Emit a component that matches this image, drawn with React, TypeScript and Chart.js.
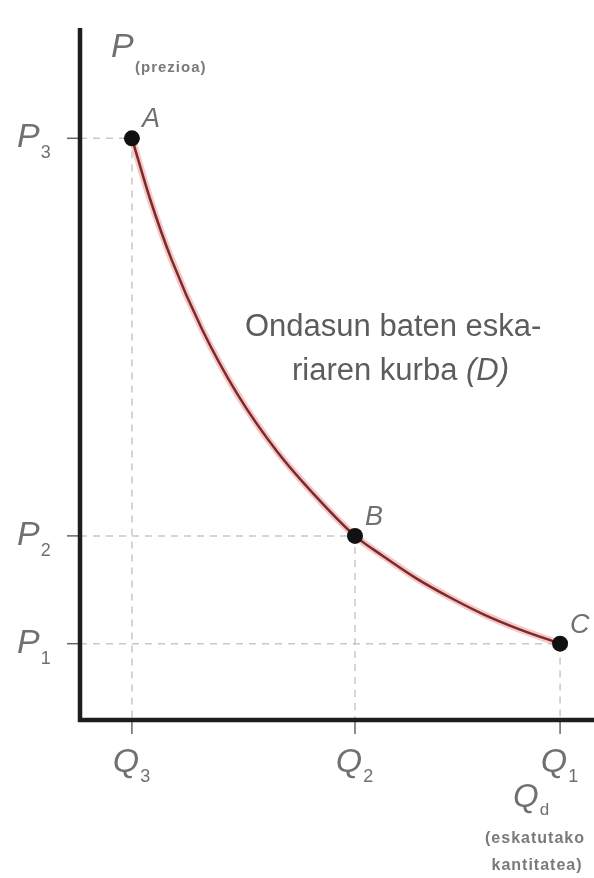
import React, { useEffect, useRef } from "react";
import { Chart, registerables } from "chart.js";

Chart.register(...registerables);

// Points A, B, C on the demand curve
const pointNames = ["A", "B", "C"];
const pointQ = [10.1, 53.5, 93.4];
const pointP = [83.1, 26.3, 10.9];
const qTickSubs = ["3", "2", "1"];
const pTickSubs = ["3", "2", "1"];

// Demand curve samples
const curveQ = [10.1, 13.6, 17.8, 23.7, 30.5, 38.3, 46.7, 53.5, 59.0, 65.5, 72.0, 78.5, 85.0, 93.4];
const curveP = [83.1, 74.5, 65.8, 55.9, 46.7, 38.4, 31.3, 26.3, 23.4, 20.2, 17.5, 15.1, 13.1, 10.9];

const curveLabel1 = "Ondasun baten eska-";
const curveLabel2a = "riaren kurba ";
const curveLabel2b = "(D)";
const yAxisTitle = "P";
const yAxisSub = "(prezioa)";
const xAxisTitle = "Q";
const xAxisSub = "d";
const xAxisNote1 = "(eskatutako";
const xAxisNote2 = "kantitatea)";

const FONT = "'Liberation Sans', Arial, sans-serif";
const LABEL = "#707070";

function drawSub(
  ctx: CanvasRenderingContext2D,
  main: string,
  sub: string,
  x: number,
  y: number,
  size: number,
  subSize: number,
  subDrop: number,
  align: "left" | "right" | "center"
) {
  ctx.font = `italic ${size}px ${FONT}`;
  const mw = ctx.measureText(main).width;
  ctx.font = `${subSize}px ${FONT}`;
  const sw = ctx.measureText(sub).width;
  const total = mw + sw;
  let left = x;
  if (align === "right") left = x - total;
  if (align === "center") left = x - total / 2;
  ctx.textAlign = "left";
  ctx.textBaseline = "alphabetic";
  ctx.font = `italic ${size}px ${FONT}`;
  ctx.fillText(main, left, y);
  ctx.font = `${subSize}px ${FONT}`;
  ctx.fillText(sub, left + mw + 1, y + subDrop);
}

const decorPlugin = {
  id: "decor",
  afterDatasetsDraw(chart: any) {
    const ctx: any = chart.ctx;
    const xs = chart.scales.x;
    const ys = chart.scales.y;
    const x0 = xs.getPixelForValue(0);
    const y0 = ys.getPixelForValue(0);
    ctx.save();

    // tick marks
    ctx.strokeStyle = "#666";
    ctx.lineWidth = 1.5;
    pointQ.forEach((q) => {
      const px = xs.getPixelForValue(q);
      ctx.beginPath();
      ctx.moveTo(px, y0);
      ctx.lineTo(px, y0 + 14);
      ctx.stroke();
    });
    pointP.forEach((p) => {
      const py = ys.getPixelForValue(p);
      ctx.beginPath();
      ctx.moveTo(x0 - 13, py);
      ctx.lineTo(x0, py);
      ctx.stroke();
    });

    // axis lines
    ctx.strokeStyle = "#1e1e1e";
    ctx.lineWidth = 4.5;
    ctx.lineCap = "butt";
    ctx.beginPath();
    ctx.moveTo(x0, 28);
    ctx.lineTo(x0, y0);
    ctx.lineTo(chart.width, y0);
    ctx.stroke();

    ctx.fillStyle = LABEL;
    // P tick labels
    pointP.forEach((p, i) => {
      const py = ys.getPixelForValue(p);
      drawSub(ctx, "P", pTickSubs[i], 17, py + 9, 34, 18, 11, "left");
    });
    // Q tick labels
    pointQ.forEach((q, i) => {
      const px = xs.getPixelForValue(q);
      drawSub(ctx, "Q", qTickSubs[i], px - 1, y0 + 52, 34, 18, 10, "center");
    });
    // point letters
    pointNames.forEach((n, i) => {
      const px = xs.getPixelForValue(pointQ[i]);
      const py = ys.getPixelForValue(pointP[i]);
      ctx.font = `italic 27px ${FONT}`;
      ctx.textAlign = "left";
      ctx.fillText(n, px + 10, py - 11);
    });

    // y axis title
    ctx.font = `italic 34px ${FONT}`;
    ctx.textAlign = "left";
    ctx.fillText(yAxisTitle, 111, 57);
    ctx.font = `bold 15px ${FONT}`;
    ctx.letterSpacing = "1px";
    ctx.fillStyle = "#7a7a7a";
    ctx.fillText(yAxisSub, 135, 72);

    // x axis title
    ctx.letterSpacing = "0px";
    ctx.fillStyle = LABEL;
    drawSub(ctx, xAxisTitle, xAxisSub, 513, 807, 33, 17, 8, "left");
    ctx.font = `bold 16px ${FONT}`;
    ctx.letterSpacing = "1px";
    ctx.fillStyle = "#7a7a7a";
    ctx.textAlign = "center";
    ctx.fillText(xAxisNote1, 535, 843);
    ctx.fillText(xAxisNote2, 537, 870);
    ctx.letterSpacing = "0px";

    // curve label
    ctx.fillStyle = "#5c5c5c";
    ctx.font = `31px ${FONT}`;
    ctx.textAlign = "left";
    ctx.fillText(curveLabel1, 245, 336);
    const w2 = ctx.measureText(curveLabel2a).width;
    ctx.fillText(curveLabel2a, 292, 380);
    ctx.font = `italic 31px ${FONT}`;
    ctx.fillText(curveLabel2b, 292 + w2, 380);

    ctx.restore();
  },
};

export default function App() {
  const ref = useRef<HTMLCanvasElement | null>(null);
  useEffect(() => {
    document.body.style.margin = "0";
    const guides = pointQ.map((q, i) => ({
      type: "line" as const,
      data: [
        { x: 0, y: pointP[i] },
        { x: q, y: pointP[i] },
        { x: q, y: 0 },
      ],
      borderColor: "#c8c8c8",
      borderWidth: 1.5,
      borderDash: [7, 6],
      pointRadius: 0,
      fill: false,
      order: 4,
    }));
    const curveData = curveQ.map((q, i) => ({ x: q, y: curveP[i] }));
    const chart = new Chart(ref.current as HTMLCanvasElement, {
      type: "line",
      data: {
        datasets: [
          {
            data: pointQ.map((q, i) => ({ x: q, y: pointP[i] })),
            showLine: false,
            pointRadius: 8,
            pointBackgroundColor: "#111",
            pointBorderColor: "#111",
            pointBorderWidth: 0,
            order: 0,
          },
          {
            data: curveData,
            borderColor: "#7a2a2a",
            borderWidth: 2.5,
            cubicInterpolationMode: "monotone",
            pointRadius: 0,
            fill: false,
            order: 1,
          },
          {
            data: curveData,
            borderColor: "rgba(235,130,130,0.45)",
            borderWidth: 7,
            cubicInterpolationMode: "monotone",
            pointRadius: 0,
            fill: false,
            order: 2,
          },
          ...guides,
        ] as any,
      },
      options: {
        animation: false,
        responsive: false,
        clip: false as any,
        layout: { autoPadding: false, padding: { left: 80, right: 0, top: 20, bottom: 158 } },
        plugins: { legend: { display: false }, tooltip: { enabled: false } },
        events: [],
        scales: {
          x: { type: "linear", min: 0, max: 100, display: false },
          y: { type: "linear", min: 0, max: 100, display: false },
        },
      },
      plugins: [decorPlugin],
    });
    return () => chart.destroy();
  }, []);
  return (
    <div style={{ width: 594, height: 878, background: "#fff" }}>
      <canvas ref={ref} width={594} height={878} style={{ display: "block" }} />
    </div>
  );
}
